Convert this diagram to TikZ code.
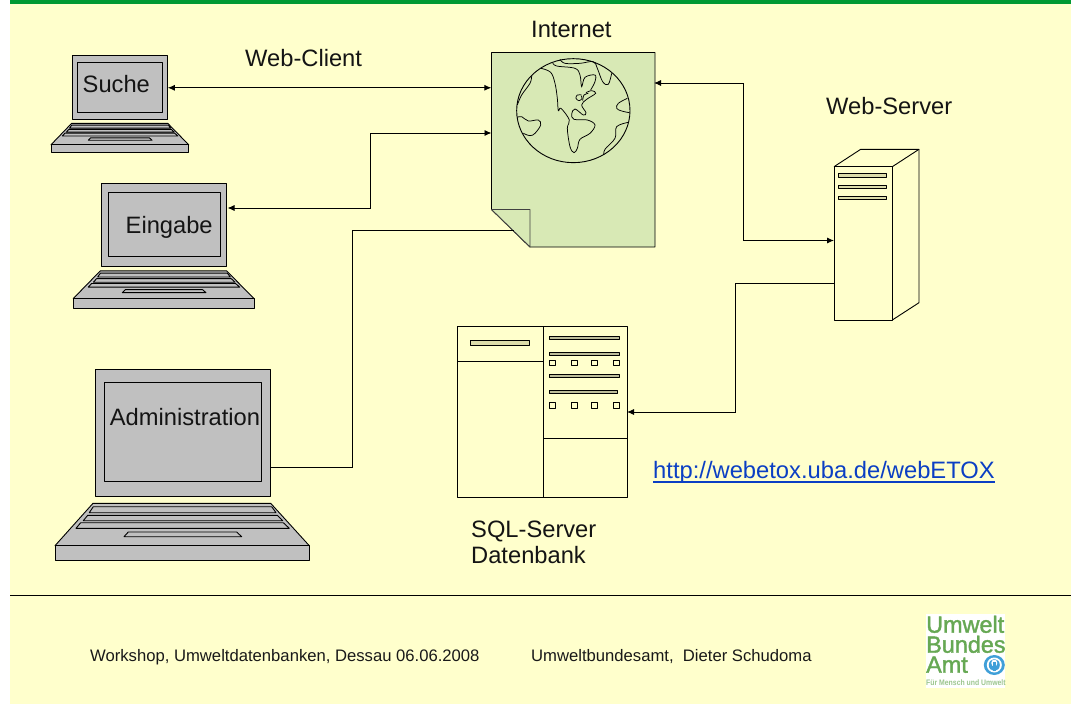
\documentclass[tikz,border=0pt]{standalone}
\usepackage{fontspec}
\setmainfont{Liberation Sans}
\newfontfamily\logofont[FakeBold=1.6]{Liberation Sans}
\usetikzlibrary{arrows.meta}
\definecolor{pagebg}{HTML}{FFFFCC}
\definecolor{topbar}{HTML}{009933}
\definecolor{docfill}{HTML}{D8E9B5}
\definecolor{slotfill}{HTML}{DDDDAA}
\definecolor{barfill}{HTML}{BDBD9A}
\definecolor{padgray}{HTML}{C0C0C0}
\definecolor{logogreen}{HTML}{66A853}
\definecolor{logoblue}{HTML}{3F9FD8}
\definecolor{linkblue}{HTML}{0B3FC4}
\tikzset{
  x=1pt,y=-1pt,
  outline/.style={draw=black,line width=0.9pt,line join=round},
  gray part/.style={outline,fill=padgray},
  screenbox/.style={gray part,inner sep=0pt,outer sep=0pt},
  big/.style={font=\fontsize{23.7}{26}\selectfont,inner sep=0pt,anchor=base west,text=black!92},
  foot/.style={font=\fontsize{16.65}{19}\selectfont,inner sep=0pt,anchor=base west,text=black!90},
  conn/.style={draw=black,line width=0.9pt},
  twoway/.style={conn,{Latex[length=7pt,width=6pt]}-{Latex[length=7pt,width=6pt]}},
  oneway/.style={conn,-{Latex[length=7pt,width=6pt]}},
  slot/.style={outline,line width=0.8pt,fill=slotfill},
  bar/.style={outline,line width=0.8pt,fill=barfill},
  sq/.style={outline,line width=0.8pt,fill=pagebg},
  geo/.style={draw=black,line width=0.75pt,smooth,tension=0.6},
}
\newcommand{\laptop}[5]{%
 \begin{scope}[shift={(#2,#3)},xscale=#4,yscale=#5]
  \node[screenbox,minimum width={175.7pt*#4},minimum height={127.3pt*#5}] (#1) at (127.85,63.65) {};
  \node[screenbox,minimum width={157.4pt*#4},minimum height={99pt*#5}] (#1-in) at (128,63.2) {};
  \draw[gray part] (38,134.3) -- (215.7,134.3) -- (254.3,176.7) -- (0,176.7) -- cycle;
  \draw[gray part] (0,176.7) rectangle (254.3,191.7);
  \draw[gray part] (38.3,137.7) -- (216.7,137.7) -- (221,143.7) -- (34.3,143.7) -- cycle;
  \draw[gray part] (32.7,146.3) -- (222.3,146.3) -- (227.7,151.7) -- (28.3,151.7) -- cycle;
  \draw[gray part] (25.7,153.7) -- (228.3,153.7) -- (234.3,159.3) -- (21,159.3) -- cycle;
  \draw[gray part] (73.3,163) -- (181.7,163) -- (186.7,167.7) -- (69,167.7) -- cycle;
 \end{scope}}
\begin{document}
\begin{tikzpicture}
\useasboundingbox (0,0) rectangle (1071,704);
\fill[white] (0,0) rectangle (1071,704);
\fill[pagebg] (10,0) rectangle (1071,704);
\fill[topbar] (10,0) rectangle (1071,4);

% laptops
\laptop{suche}{51}{55.7}{0.5415}{0.504}
\laptop{eingabe}{73.3}{183.3}{0.7106}{0.652}
\laptop{admin}{55}{369}{1}{1}
\node[big] (tsuche) at (82.5,92.5) {Suche};
\node[big] (teingabe) at (125.5,233) {Eingabe};
\node[big] (tadmin) at (109.7,425.5) {Administration};

% internet document
\node[inner sep=0pt,minimum width=163.5pt,minimum height=194.5pt] (internet) at (573.25,149.75) {};
\draw[outline,fill=docfill] (491.5,52.5) -- (655,52.5) -- (655,247) -- (530,247) -- (491.5,209.5) -- cycle;
\draw[outline,draw=black!75,fill=docfill] (491.5,209.5) -- (530,209.5) -- (530,247) -- cycle;
\begin{scope}[shift={(480,40)},x=0.3333pt,y=-0.3333pt]
 \draw[line width=0.9pt] (280,212) ellipse [x radius=170,y radius=156];
 \draw[geo] plot coordinates {(183,85) (212,97) (225,130) (232,175) (235,212) (243,205) (268,240) (262,265) (270,320) (282,338) (292,325) (300,298) (330,280) (345,255) (322,240) (282,238) (275,222) (285,207) (310,225) (318,218) (305,195) (320,178) (347,160) (335,152) (318,158)};
 \draw[geo] plot coordinates {(218,68) (230,78) (285,85) (300,105) (305,140) (315,112) (345,105) (345,125) (332,150)};
 \draw[geo] plot coordinates {(240,58) (255,70) (300,70) (340,65) (352,85) (368,125) (385,133) (395,100)};
 \draw[geo] plot coordinates {(442,175) (415,190) (410,205) (425,213) (448,218)};
 \draw[geo] plot coordinates {(445,247) (410,260) (405,295) (375,328) (372,345)};
 \draw[geo] plot coordinates {(155,108) (150,130) (125,165) (112,195)};
 \draw[geo] plot coordinates {(112,232) (125,230) (145,243) (175,240) (182,255) (165,280) (150,287) (130,280)};
 \draw[geo] plot coordinates {(305,165) (292,165) (288,175) (297,182) (306,176) (304,168)};
 \draw[geo] plot coordinates {(308,182) (312,165) (325,160)};
\end{scope}

% server
\node[inner sep=0pt,minimum width=58.3pt,minimum height=153.5pt] (server) at (863.2,243.3) {};
\draw[outline] (834,166.7) -- (860.7,149.3) -- (919,149.3) -- (892.3,166.7);
\draw[outline] (919,149.3) -- (919,302.7) -- (892.3,320);
\draw[outline,line width=1pt] (834,166.7) rectangle (892.3,320);
\draw[slot] (838.3,173.3) rectangle (886.7,177.3);
\draw[slot] (838.3,185) rectangle (886.7,188.3);
\draw[slot] (838.3,196) rectangle (886.7,199.3);

% sql server
\node[inner sep=0pt,minimum width=170pt,minimum height=170.6pt] (sql) at (542.5,412) {};
\draw[outline,line width=1pt] (457.5,326.7) rectangle (627.5,497.3);
\draw[outline,line width=1pt] (543.3,326.7) -- (543.3,497.3);
\draw[outline,line width=1pt] (457.5,361.3) -- (543.3,361.3);
\draw[outline,line width=1pt] (543.3,438.3) -- (627.5,438.3);
\draw[slot] (470.7,340.7) rectangle (529.3,345.3);
\draw[bar] (549,336.7) rectangle (619.3,339.7);
\draw[bar] (549,352.3) rectangle (619.3,355.3);
\draw[bar] (549,374.3) rectangle (619.3,377.7);
\draw[bar] (549,390.3) rectangle (617.7,393.7);
\foreach \qx in {549.3,571,591,613}{
 \draw[sq] (\qx,360) rectangle ++(6,5.3);
 \draw[sq] (\qx,402.7) rectangle ++(6,5.3);
}

% ports
\coordinate (pIntA) at (internet.west |- suche.east);
\coordinate (pIntB) at (491.5,133);
\coordinate (pEin) at (227.5,208);
\coordinate (pBend) at (370,133);
\coordinate (pFold) at (514,230.5);
\coordinate (pAdm) at (271,467);
\coordinate (pIntR) at (654,83);
\coordinate (pSrvA) at (834,240.5);
\coordinate (pSrvB) at (834,283);
\coordinate (pSql) at (627,412);

% connectors
\draw[twoway] (suche.east) -- (pIntA);
\draw[twoway] (pEin) -- (370,208) -- (pBend) -- (pIntB);
\draw[conn] (pAdm) -- (352,467) -- (352,230.5) -- (pFold);
\draw[twoway] (pIntR) -- (743,83) -- (743,240.5) -- (pSrvA);
\draw[oneway] (pSrvB) -- (735,283) -- (735,412) -- (pSql);

% labels
\node[big] (tclient) at (245,66.5) {Web-Client};
\node[big] (tinternet) at (531,37) {Internet};
\node[big] (tserver) at (826,114) {Web-Server};
\node[big] (tsql) at (471,537.5) {SQL-Server};
\node[big] (tdb) at (471,563.5) {Datenbank};
\node[big,font=\fontsize{23.75}{26}\selectfont,text=linkblue] (turl) at (653,478.5) {http://webetox.uba.de/webETOX};
\draw[linkblue,line width=1.3pt] ([yshift=-3.6pt]turl.base west) -- ([yshift=-3.6pt]turl.base east);

% footer
\draw[line width=0.9pt] (10,595.3) -- (1071,595.3);
\node[foot] (f1) at (90,661) {Workshop, Umweltdatenbanken, Dessau 06.06.2008};
\node[foot] (f2) at (531,661) {Umweltbundesamt,\ \ Dieter Schudoma};

% logo
\fill[white] (925.7,614.3) rectangle (1005,687.5);
\node[inner sep=0pt,anchor=base west,align=left,text=logogreen,font=\logofont\fontsize{23.4}{20}\selectfont] (logo) at (926,672.7) {Umwelt\\Bundes\\Amt};
\node[inner sep=0pt,anchor=base west,font=\fontsize{8}{9}\selectfont\bfseries,text=logogreen!65,xscale=0.86] (l4) at (926,685.5) {Für Mensch und Umwelt};
\fill[logoblue] (994.3,665) ellipse [x radius=10.5,y radius=10];
\fill[white] (994.3,665) ellipse [x radius=7.5,y radius=7.5];
\fill[logoblue] (994.3,665) ellipse [x radius=5.5,y radius=6];
\fill[white] (994.3,663) ellipse [x radius=3,y radius=3.5];
\fill[logoblue] (992.9,662) rectangle (995.7,671);
\end{tikzpicture}
\end{document}
